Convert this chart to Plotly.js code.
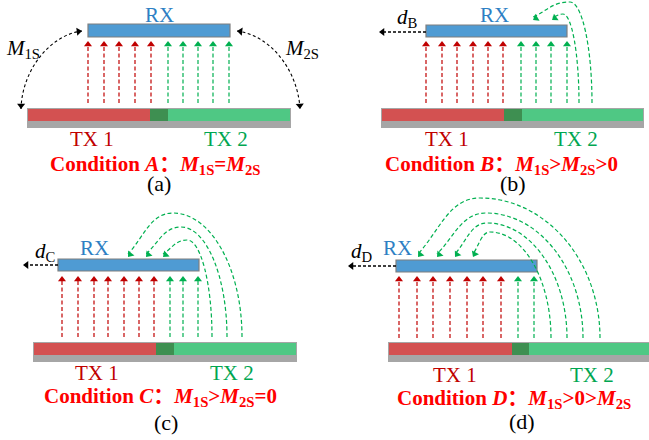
<!DOCTYPE html>
<html><head><meta charset="utf-8">
<script src="https://cdn.plot.ly/plotly-3.0.1.min.js"></script>
<style>html,body{margin:0;padding:0;background:#fff}</style>
</head><body><div id="chart" style="width:649px;height:440px"></div>
<script>
// ---- data ----
const panelTags = ['(a)', '(b)', '(c)', '(d)'];
const conditionLetters = ['A', 'B', 'C', 'D'];
const conditionRel = [
  '<i>M</i><sub>1S</sub>=<i>M</i><sub>2S</sub>',
  '<i>M</i><sub>1S</sub>&gt;<i>M</i><sub>2S</sub>&gt;0',
  '<i>M</i><sub>1S</sub>&gt;<i>M</i><sub>2S</sub>=0',
  '<i>M</i><sub>1S</sub>&gt;0&gt;<i>M</i><sub>2S</sub>'
];
const rxX0 = [88, 426, 58, 396];
const rxX1 = [230, 567, 199, 537];
const rxY0 = [24, 25, 259, 260];
const rxY1 = [37, 37, 271, 272];
const txX0 = [27, 381, 33, 388];
const txX1 = [291, 644, 297, 650];
const txRedEnd = [150, 504, 156, 512];
const txOverlapEnd = [168, 522, 174, 529];
const txY0 = [109, 109, 343, 343];
const txY1 = [121, 121, 355, 355];
const txBase = [128, 128, 362, 362];
const redArrowX = [[88,104,119,135,151],[426,442,457,473,488,503],[62,78,94,108,124,139,154],[399,417,433,450,467,483,501]];
const greenArrowX = [[168,183,198,213,229],[521,536,551,567],[170,183,198],[518,534]];
const arrowBottom = [103, 103, 337, 338];
const arrowTip = [41, 41, 276, 276];
// curved (cross-coupled) paths: start x on TX2, apex, end tip on RX
const curveStartX = [[], [579, 592], [212, 227, 242], [551, 567, 583, 600]];
const curveApexX  = [[], [563, 570], [187, 181, 173], [490, 487, 486, 480]];
const curveApexY  = [[], [14, 2], [240, 227, 213], [232, 223, 213, 198]];
const curveEndX   = [[], [552, 533], [163, 146, 128], [473, 455, 437, 418]];
const curveEndY   = [[], [20, 20], [257, 257, 257], [257, 257, 257, 257]];
// displacement arrows d_B, d_C, d_D
const dLabel = ['', 'B', 'C', 'D'];
const dArrowY = [null, 32, 265, 266];
const dArrowTo = [null, 379, 23, 348];
const dLabelX = [null, 407, 45, 362];
const dLabelY = [null, 18, 252, 252];
// label positions
const rxLabelX = [159, 494, 94, 397];
const rxLabelY = [15, 15, 248, 248];
const tx1LabelX = [92, 447, 97, 455];
const tx2LabelX = [226, 576, 232, 592];
const txLabelY = [139, 139, 373, 375];
const condX = [155, 501, 160, 514];
const condY = [162, 162, 394, 396];
const tagX = [159, 513, 166, 522];
const tagY = [183, 183, 422, 421];
// mutual inductance arcs in panel (a): [x0,y0,c1x,c1y,c2x,c2y,x1,y1]
const m1sArc = [21, 109, 22, 70, 50, 35, 82, 31];
const m2sArc = [237, 31, 270, 35, 298, 70, 300, 109];
const mLabels = ['<i>M</i><sub>1S</sub>', '<i>M</i><sub>2S</sub>'];
const mLabelX = [23, 302];
const mLabelY = [49, 49];

// ---- style ----
const C = {
  rx: '#4f9bd3', rxEdge: '#7f7f7f', red: '#d35151', overlap: '#3e8f51', green: '#4fc884',
  base: '#a6a6a6', arrowRed: '#c00000', arrowGreen: '#00b050',
  tx1: '#c00000', tx2: '#00a651', cond: '#ff0000'
};
const FONT = 'Liberation Serif';
const DASH = '4px,2.5px';
const HEAD = 7;

const shapes = [];
const annotations = [];
const traces = [];
const heads = {};   // color -> {x, y, angle}

function head(x, y, dx, dy, color) {
  const n = Math.hypot(dx, dy) || 1;
  const ux = dx / n, uy = dy / n, r = HEAD / 2;
  if (!heads[color]) heads[color] = {x: [], y: [], a: []};
  heads[color].x.push(x - ux * r);
  heads[color].y.push(y - uy * r);
  heads[color].a.push(Math.atan2(ux, -uy) * 180 / Math.PI);
}
function label(x, y, text, color, size) {
  annotations.push({x: x, y: y, xref: 'x', yref: 'y', text: text, showarrow: false,
    xanchor: 'center', yanchor: 'middle', font: {family: FONT, size: size || 21, color: color}});
}

for (let p = 0; p < 4; p++) {
  shapes.push({type: 'rect', xref: 'x', yref: 'y', x0: txX0[p], x1: txX1[p], y0: txY0[p] - 1, y1: txBase[p],
    fillcolor: C.base, line: {width: 0}, layer: 'below'});
  shapes.push({type: 'rect', xref: 'x', yref: 'y', x0: txX0[p] + 1, x1: txRedEnd[p], y0: txY0[p], y1: txY1[p],
    fillcolor: C.red, line: {width: 0}, layer: 'below'});
  shapes.push({type: 'rect', xref: 'x', yref: 'y', x0: txRedEnd[p], x1: txOverlapEnd[p], y0: txY0[p], y1: txY1[p],
    fillcolor: C.overlap, line: {width: 0}, layer: 'below'});
  shapes.push({type: 'rect', xref: 'x', yref: 'y', x0: txOverlapEnd[p], x1: txX1[p] - 1, y0: txY0[p], y1: txY1[p],
    fillcolor: C.green, line: {width: 0}, layer: 'below'});
  shapes.push({type: 'rect', xref: 'x', yref: 'y', x0: rxX0[p], x1: rxX1[p], y0: rxY0[p], y1: rxY1[p],
    fillcolor: C.rx, line: {width: 1.2, color: C.rxEdge}, layer: 'below'});

  [[redArrowX[p], C.arrowRed], [greenArrowX[p], C.arrowGreen]].forEach(([xs, col]) => {
    traces.push({type: 'scatter', mode: 'lines', hoverinfo: 'skip', showlegend: false,
      x: xs.flatMap(x => [x, x, null]),
      y: xs.flatMap(() => [arrowBottom[p], arrowTip[p] + 4, null]),
      line: {color: col, width: 1.2, dash: DASH}});
    xs.forEach(x => head(x, arrowTip[p], 0, -1, col));
  });

  for (let k = 0; k < curveStartX[p].length; k++) {
    const xs = curveStartX[p][k], ys = arrowBottom[p];
    const xa = curveApexX[p][k], ya = curveApexY[p][k];
    const xe = curveEndX[p][k], ye = curveEndY[p][k];
    const c1 = [xs, ys - 0.55 * (ys - ya)], c2 = [xa + 0.55 * (xs - xa), ya];
    const c3 = [xa - 0.5 * (xa - xe), ya], c4 = [xe + 0.35 * (xa - xe), ye - 0.45 * (ye - ya)];
    shapes.push({type: 'path', xref: 'x', yref: 'y',
      path: `M${xs},${ys} C${c1[0]},${c1[1]} ${c2[0]},${c2[1]} ${xa},${ya} C${c3[0]},${c3[1]} ${c4[0]},${c4[1]} ${xe},${ye - 3}`,
      line: {color: C.arrowGreen, width: 1.2, dash: DASH}});
    head(xe, ye, xe - c4[0], ye - c4[1], C.arrowGreen);
  }

  if (dArrowY[p] !== null) {
    traces.push({type: 'scatter', mode: 'lines', hoverinfo: 'skip', showlegend: false,
      x: [rxX0[p], dArrowTo[p] + 4], y: [dArrowY[p], dArrowY[p]],
      line: {color: '#000', width: 1.5, dash: '3px,2px'}});
    head(dArrowTo[p], dArrowY[p], -1, 0, '#000');
    label(dLabelX[p], dLabelY[p], '<i>d</i><sub>' + dLabel[p] + '</sub>', '#000', 21);
  }

  label(rxLabelX[p], rxLabelY[p], 'RX', '#2e7fc4', 21);
  label(tx1LabelX[p], txLabelY[p], 'TX 1', C.tx1, 21);
  label(tx2LabelX[p], txLabelY[p], 'TX 2', C.tx2, 21);
  label(condX[p], condY[p], '<b>Condition <i>' + conditionLetters[p] + '</i><span style="font-family:Noto Sans CJK SC">：</span>' + conditionRel[p] + '</b>', C.cond, 21);
  label(tagX[p], tagY[p], panelTags[p], '#000', 22);
}

[m1sArc, m2sArc].forEach(a => {
  shapes.push({type: 'path', xref: 'x', yref: 'y',
    path: `M${a[0]},${a[1]} C${a[2]},${a[3]} ${a[4]},${a[5]} ${a[6]},${a[7]}`,
    line: {color: '#000', width: 1.1, dash: '3px,2.5px'}});
  head(a[0], a[1], a[0] - a[2], a[1] - a[3], '#000');
  head(a[6], a[7], a[6] - a[4], a[7] - a[5], '#000');
});
mLabels.forEach((t, i) => label(mLabelX[i], mLabelY[i], t, '#000', 21));

Object.keys(heads).forEach(col => {
  traces.push({type: 'scatter', mode: 'markers', hoverinfo: 'skip', showlegend: false,
    x: heads[col].x, y: heads[col].y,
    marker: {symbol: 'triangle-up', size: HEAD, color: col, angle: heads[col].a, line: {width: 0}}});
});

const layout = {
  width: 649, height: 440, margin: {l: 0, r: 0, t: 0, b: 0},
  font: {family: FONT},
  paper_bgcolor: '#fff', plot_bgcolor: '#fff', showlegend: false,
  xaxis: {range: [0, 649], visible: false, fixedrange: true},
  yaxis: {range: [440, 0], visible: false, fixedrange: true},
  shapes: shapes, annotations: annotations
};
Plotly.newPlot('chart', traces, layout, {staticPlot: true, displayModeBar: false});
</script>
</body></html>
